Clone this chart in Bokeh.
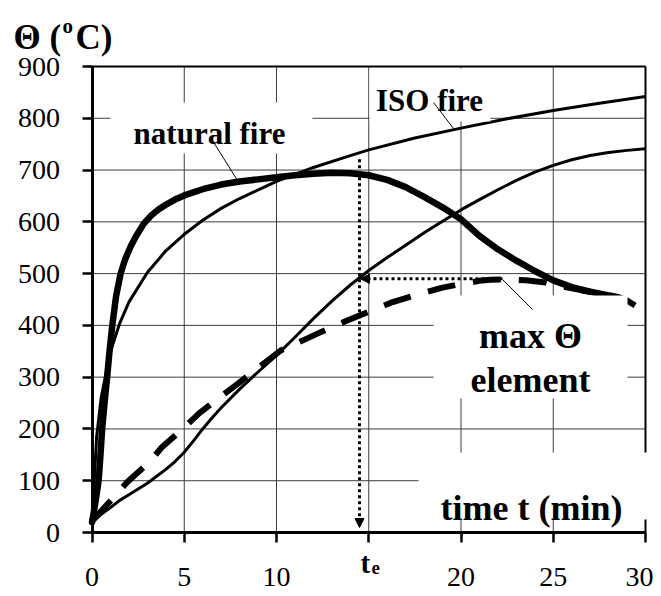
from bokeh.plotting import figure
from bokeh.models import Label, BoxAnnotation, Arrow, NormalHead, FixedTicker, Range1d
from bokeh.embed import file_html
from bokeh.resources import INLINE

# ---------------- data ----------------
x_ticks = [0, 5, 10, 15, 20, 25, 30]
y_ticks = [0, 100, 200, 300, 400, 500, 600, 700, 800, 900]

iso_t = [0, 0.25, 0.5, 1, 1.5, 2, 3, 4, 5, 6, 7, 8, 10, 12, 14, 15, 17.5, 20, 22.5, 25, 27.5, 30]
iso_v = [20, 185, 261, 349, 404, 445, 502, 544, 576, 603, 626, 645, 678, 705, 728, 739, 762, 781, 799, 815, 829, 842]

nat_t = [0, 0.1, 0.2, 0.3, 0.37, 0.45, 0.55, 0.68, 0.82, 0.95, 1.1, 1.3, 1.55, 1.8, 2.1, 2.4, 2.8, 3.2, 3.6,
         4, 4.5, 5, 6, 7, 8, 9, 10, 11, 12, 13, 14,
         15, 16, 17, 18, 19, 20, 21, 22, 23, 24, 25, 26, 27, 28]
nat_v = [20, 40, 62, 85, 105, 145, 200, 250, 300, 350, 400, 455, 500, 528, 553, 573, 596, 612, 624,
         633, 643, 651, 663, 672, 678, 682, 686, 690, 693, 695, 694,
         690, 681, 667, 648, 628, 605, 573, 547, 525, 505, 487, 474, 465, 458]

elem_t = [0, 0.5, 1, 1.5, 2, 3, 4, 4.5, 5, 5.5, 6, 6.5, 7, 8, 9, 10, 11, 12, 13, 14, 15, 16, 17, 18, 19, 20,
          21, 22, 23, 24, 25, 26, 27, 28, 29, 30]
elem_v = [20, 35, 48, 62, 73, 95, 122, 137, 155, 177, 200, 221, 241, 277, 310, 342, 377, 413, 447, 478, 506,
          531, 555, 579, 601, 623, 643, 662, 680, 696, 709, 720, 728, 734, 738, 741]

maxel_t = [0, 1.1, 1.9, 3.1, 3.8, 5, 5.8, 7, 8, 9, 10.2, 11, 12.4, 13.8, 14.9, 16.3, 17.4, 19, 20, 21, 21.6,
           22.5, 23.5, 24.6, 25.5, 26.5, 27.5, 28.5, 29, 29.5, 30]
maxel_v = [22, 65, 97, 136, 165, 203, 230, 263, 290, 318, 351, 364, 387, 409, 425, 445, 457, 473, 480, 486, 488,
           489, 487, 483, 475, 468, 462, 455, 448, 437, 425]

t_e = 14.5          # equivalent time
theta_e = 490       # max element temperature
iso_at_te = 721     # top of the dotted vertical

# ---------------- layout (pixel <-> data) ----------------
W, H = 653, 592
X0, X1, Y0, Y1 = 91.5, 645.0, 532.0, 66.0      # pixel positions of t=0, t=30, v=0, v=900
SX = (X1 - X0) / 30.0
SY = (Y0 - Y1) / 900.0
def tx(px):
    return (px - X0) / SX
def vy(py):
    return (Y0 - py) / SY

FONT = "Liberation Serif"

p = figure(width=W, height=H, x_range=Range1d(tx(0), tx(W)), y_range=Range1d(vy(H), vy(0)),
           output_backend="svg", toolbar_location=None, min_border=0)
p.min_border_left = p.min_border_right = p.min_border_top = p.min_border_bottom = 0
p.outline_line_color = None
p.background_fill_color = "white"
p.border_fill_color = "white"
p.xgrid.visible = False
p.ygrid.visible = False

for ax, ticks, bnds in ((p.xaxis, x_ticks, (0, 30)), (p.yaxis, y_ticks, (0, 900))):
    ax.fixed_location = 0
    ax.bounds = bnds
    ax.ticker = FixedTicker(ticks=ticks)
    ax.axis_line_width = 3
    ax.axis_line_color = "black"
    ax.major_tick_line_width = 2.5
    ax.major_tick_line_color = "black"
    ax.major_tick_out = 10
    ax.major_tick_in = 0
    ax.minor_tick_line_color = None
    ax.major_label_text_font = FONT
    ax.major_label_text_font_size = "28px"
    ax.major_label_text_color = "black"
p.xaxis.major_label_overrides = {15: " "}
p.xaxis.major_label_standoff = 18
p.yaxis.major_label_standoff = 22

# grid (from the tick lists)
gx = [t for t in x_ticks if 0 < t < 30]
gy = [v for v in y_ticks if 0 < v < 900]
p.segment(gx, [0] * len(gx), gx, [900] * len(gx), line_color="#3c3c3c", line_width=1, level="underlay")
p.segment([0] * len(gy), gy, [30] * len(gy), gy, line_color="#3c3c3c", line_width=1, level="underlay")
# frame borders top / right
p.segment([0, 30], [900, 0], [30, 30], [900, 900], line_color="black", line_width=2, level="underlay")

# curves
p.line(iso_t, iso_v, line_color="black", line_width=3, line_join="round")
p.line(elem_t, elem_v, line_color="black", line_width=3, line_join="round")
p.line(nat_t, nat_v, line_color="black", line_width=6.5, line_join="round", line_cap="round")
p.line(maxel_t, maxel_v, line_color="black", line_width=6, line_dash="28 18", line_join="round")

# dotted construction lines with arrows
p.add_layout(Arrow(x_start=t_e, y_start=iso_at_te, x_end=t_e, y_end=vy(527),
                   line_color="black", line_width=3, line_dash="3 3",
                   end=NormalHead(size=9, fill_color="black", line_color="black", line_width=1)))
p.add_layout(Arrow(x_start=tx(502), y_start=theta_e, x_end=t_e + 0.05, y_end=theta_e,
                   line_color="black", line_width=3, line_dash="3 3",
                   end=NormalHead(size=9, fill_color="black", line_color="black", line_width=1)))

# white label boxes
boxes = [
    (110, 312, 102, 153),   # natural fire
    (369, 490, 68, 121),    # ISO fire
    (433, 627, 295, 398),   # max theta element
    (418, 660, 452, 519),   # time t (min)
]
for l, r, t, b in boxes:
    p.add_layout(BoxAnnotation(left=tx(l), right=tx(r), top=vy(t), bottom=vy(b),
                               fill_color="white", fill_alpha=1, line_color=None, level="annotation"))

def lab(px, py, text, size, align="left", bold=True):
    p.add_layout(Label(x=tx(px), y=vy(py), text=text, text_font=FONT,
                       text_font_style="bold" if bold else "normal",
                       text_font_size=size, text_align=align, text_baseline="alphabetic",
                       text_color="black", level="overlay"))

lab(209, 133, "natural fire", "31px", "center")
lab(429, 100, "ISO fire", "31px", "center")
lab(530, 335, "max Θ", "36px", "center")
lab(530, 379, "element", "36px", "center")
lab(531, 507, "time t (min)", "36px", "center")
# axis title  Θ (oC)
lab(13, 37, "Θ (", "35px")
lab(62, 25, "o", "21px")
lab(75, 37, "C)", "35px")
# t_e
lab(360, 562, "t", "29px")
lab(371, 567, "e", "19px")

# leader lines
lead_x0 = [tx(212), tx(433), tx(502)]
lead_y0 = [vy(140), vy(102), vy(279)]
lead_x1 = [tx(237), tx(453), tx(532)]
lead_y1 = [vy(180), vy(128), vy(309)]
p.segment(lead_x0, lead_y0, lead_x1, lead_y1, line_color="black", line_width=1, level="overlay")

open("out.html", "w").write(file_html(p, INLINE))
